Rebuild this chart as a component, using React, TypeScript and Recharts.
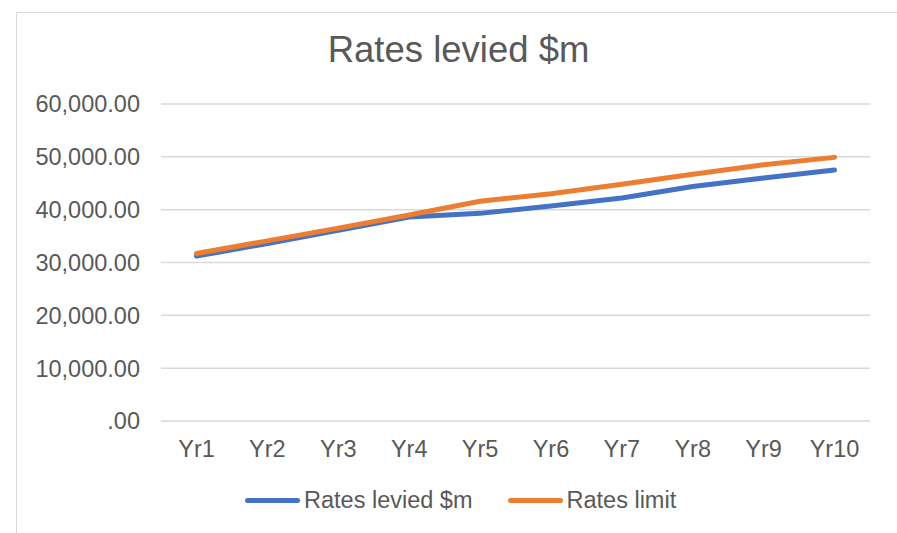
import { LineChart, Line, XAxis, YAxis, CartesianGrid } from 'recharts'

const years = ['Yr1', 'Yr2', 'Yr3', 'Yr4', 'Yr5', 'Yr6', 'Yr7', 'Yr8', 'Yr9', 'Yr10']
const ratesLevied = [31200, 33600, 36100, 38600, 39300, 40700, 42200, 44400, 46000, 47500]
const ratesLimit = [31700, 34100, 36500, 39000, 41600, 43000, 44800, 46700, 48500, 49900]
const yTicks = [0, 10000, 20000, 30000, 40000, 50000, 60000]

const BLUE = '#4472C4'
const ORANGE = '#ED7D31'
const TEXT = '#595959'
const FONT = '"Liberation Sans", Arial, sans-serif'

const data = years.map((yr, i) => ({ yr, levied: ratesLevied[i], limit: ratesLimit[i] }))

const fmt = (v: number) => {
  if (v === 0) return '.00'
  return v.toLocaleString('en-US', { minimumFractionDigits: 2, maximumFractionDigits: 2 })
}

function LegendItem({ color, label }: { color: string; label: string }) {
  return (
    <div style={{ display: 'flex', alignItems: 'center' }}>
      <div style={{ width: 55, height: 5, borderRadius: 3, background: color, marginRight: 4 }} />
      <span>{label}</span>
    </div>
  )
}

export default function App() {
  return (
    <div style={{ position: 'absolute', left: 0, top: 0, width: 897, height: 533, overflow: 'hidden', background: '#fff', fontFamily: FONT }}>
      <div style={{ position: 'absolute', left: 16, top: 12, width: 920, height: 560, border: '1px solid #d9d9d9', boxSizing: 'border-box' }} />
      <div style={{ position: 'absolute', left: 0, top: 31.5, width: 917, textAlign: 'center', fontSize: 36.5, lineHeight: '36px', color: TEXT }}>
        Rates levied $m
      </div>
      <div style={{ position: 'absolute', left: 0, top: 0 }}>
        <LineChart width={897} height={533} data={data} margin={{ top: 104, right: 27, bottom: 82, left: 0 }}>
          <CartesianGrid vertical={false} stroke="#d9d9d9" strokeWidth={1.5} />
          <XAxis
            dataKey="yr"
            height={30}
            axisLine={false}
            tickLine={false}
            tickSize={0}
            tickMargin={19}
            padding={{ left: 35.5, right: 35.5 }}
            tick={{ fontSize: 23.5, fill: TEXT, fontFamily: FONT }}
            interval={0}
          />
          <YAxis
            width={161}
            domain={[0, 60000]}
            ticks={yTicks}
            axisLine={false}
            tickLine={false}
            tickSize={0}
            tickMargin={21}
            tickFormatter={fmt}
            tick={{ fontSize: 23.5, fill: TEXT, fontFamily: FONT }}
          />
          <Line dataKey="levied" stroke={BLUE} strokeWidth={5} strokeLinecap="round" strokeLinejoin="round" dot={false} isAnimationActive={false} />
          <Line dataKey="limit" stroke={ORANGE} strokeWidth={5} strokeLinecap="round" strokeLinejoin="round" dot={false} isAnimationActive={false} />
        </LineChart>
      </div>
      <div style={{ position: 'absolute', left: 245, top: 488, display: 'flex', fontSize: 23.5, lineHeight: '24px', color: TEXT }}>
        <LegendItem color={BLUE} label="Rates levied $m" />
        <div style={{ width: 35 }} />
        <LegendItem color={ORANGE} label="Rates limit" />
      </div>
    </div>
  )
}
